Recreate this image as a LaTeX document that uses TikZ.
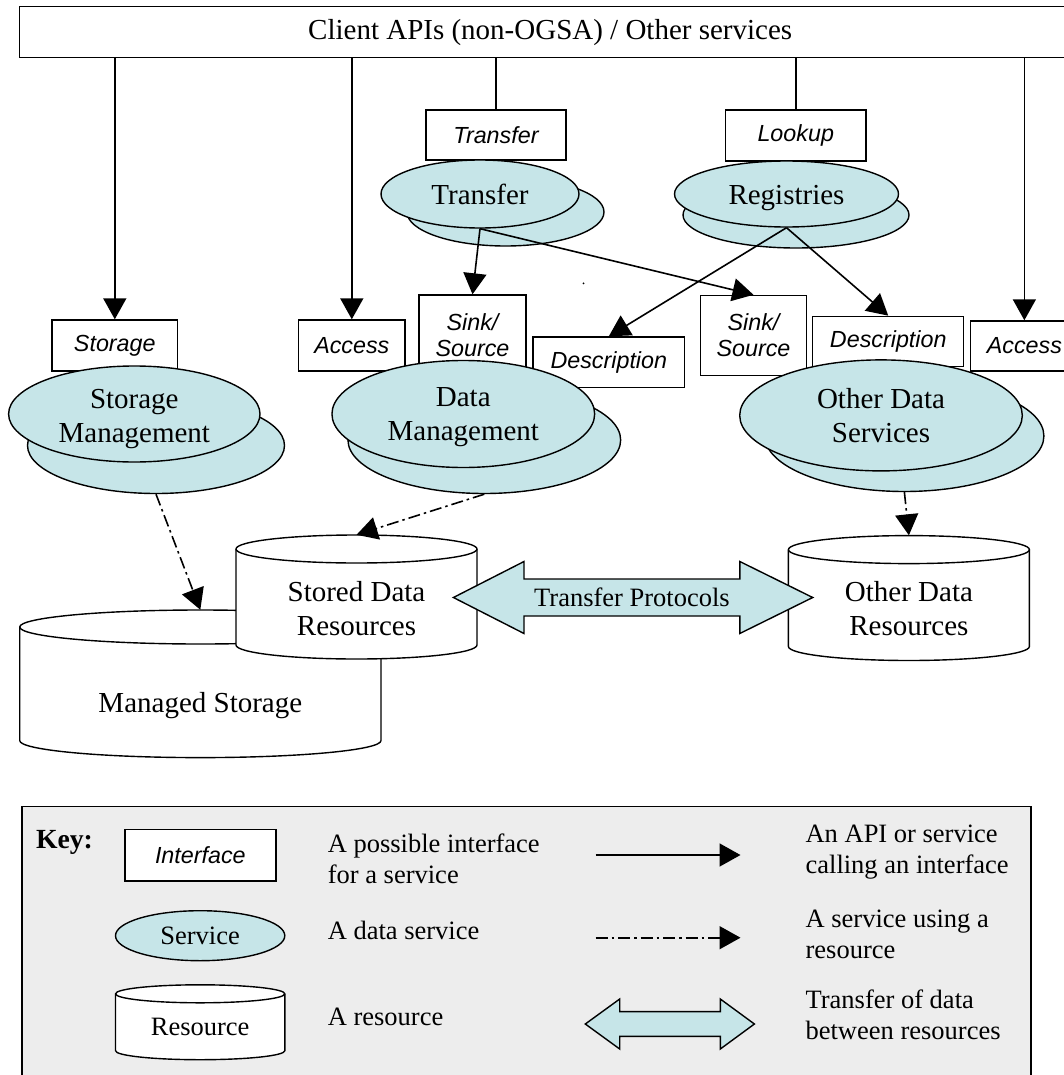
\documentclass[tikz,border=0pt]{standalone}
\usepackage{fontspec}
\setmainfont{Liberation Serif}
\setsansfont{Liberation Sans}
\usetikzlibrary{arrows.meta,shapes.geometric}
\definecolor{svc}{HTML}{C6E5E8}
\definecolor{keybg}{HTML}{EDEDED}
\newcommand\mycyl[5]{%
  \pgfmathsetmacro\cylrx{(#2-#1)/2}%
  \filldraw[outl, fill=white] (#1,#3) -- (#1,#4)
    arc[start angle=180, end angle=360, x radius=\cylrx pt, y radius=#5 pt]
    -- (#2,#3)
    arc[start angle=0, end angle=180, x radius=\cylrx pt, y radius=#5 pt] -- cycle;
  \draw[outl] (#1,#3) arc[start angle=180, end angle=360, x radius=\cylrx pt, y radius=#5 pt];
}
\begin{document}
\begin{tikzpicture}[x=1pt,y=-1pt,
  outl/.style={line width=1.4pt},
  iface/.style={draw, outl, fill=white, rectangle, inner sep=0pt,
    font=\fontsize{23.3}{26}\selectfont\sffamily\itshape, align=center},
  svcfront/.style={draw, outl, fill=svc, ellipse, inner sep=0pt,
    font=\fontsize{29}{34}\selectfont, align=center},
  svcback/.style={draw, outl, fill=svc, ellipse, inner sep=0pt},
  maintxt/.style={font=\fontsize{29}{34}\selectfont, align=center, inner sep=0pt},
  keytxt/.style={font=\fontsize{26.5}{31}\selectfont, align=left, anchor=west, inner sep=0pt},
  call/.style={line width=1.6pt, -{Triangle[length=21pt,width=23pt]}},
  usearrow/.style={line width=1.6pt, dash pattern=on 12pt off 4pt on 2.5pt off 4pt,
    -{Triangle[length=21pt,width=23pt]}},
]
\useasboundingbox (0,0) rectangle (1064,1075);

% top box
\node[draw, outl, anchor=north west, minimum width=1061pt, minimum height=51pt,
  inner sep=0pt, font=\fontsize{29}{34}\selectfont] (client) at (19,6)
  {Client APIs (non-OGSA) / Other services};

% interface boxes
\node[iface, minimum width=140pt, minimum height=50pt] (itransfer) at (496,135) {Transfer};
\node[iface, minimum width=140.5pt, minimum height=51pt] (ilookup) at (795.75,135.5) {Lookup};
\node[iface, minimum width=125.6pt, minimum height=51pt] (istorage) at (114.8,345.5) {Storage};
\node[iface, minimum width=106.4pt, minimum height=51pt] (iaccessL) at (351.8,345.5) {Access};
\node[iface, minimum width=107pt, minimum height=80pt] (isinkL) at (472.5,335) {Sink/\\Source};
\node[iface, minimum width=151.6pt, minimum height=50.6pt] (idescL) at (608.8,362.3) {Description};
\node[iface, minimum width=106pt, minimum height=80pt] (isinkR) at (753.5,335.5) {Sink/\\Source};
\node[iface, minimum width=151pt, minimum height=50.3pt] (idescR) at (888.25,341.5) {Description};
\node[iface, minimum width=107.3pt, minimum height=50pt] (iaccessR) at (1024.35,346) {Access};

% calls from client APIs
\draw[call] (client.south -| istorage.north) -- (istorage.north);
\draw[call] (client.south -| iaccessL.north) -- (iaccessL.north);
\draw[line width=1.6pt] (client.south -| itransfer.north) -- (itransfer.north);
\draw[line width=1.6pt] (client.south -| ilookup.north) -- (ilookup.north);
\draw[call] (client.south -| iaccessR.north) -- (iaccessR.north);

% services
\node[svcback, minimum width=197pt, minimum height=68pt] (transferB) at (505.5,212) {};
\node[svcfront, minimum width=198pt, minimum height=68pt] (transfer) at (480,194) {Transfer};
\node[svcback, minimum width=226pt, minimum height=66pt] (registriesB) at (796,215) {};
\node[svcfront, minimum width=224pt, minimum height=66pt] (registries) at (786.5,194) {};
\node[maintxt] (registriestxt) at (786.5,198) {Registries};
\node[svcback, minimum width=257pt, minimum height=96pt] (storagemB) at (156,445.5) {};
\node[svcfront, minimum width=251.4pt, minimum height=96pt] (storagem) at (134.3,414) {};
\node[maintxt] (storagemtxt) at (134.3,419) {Storage\\Management};
\node[svcback, minimum width=272.7pt, minimum height=107pt] (datamB) at (484.3,440) {};
\node[svcfront, minimum width=262.7pt, minimum height=107pt] (datam) at (463.3,414) {};
\node[maintxt] (datamtxt) at (463.3,417.5) {Data\\Management};
\node[svcback, minimum width=279pt, minimum height=111pt] (otherB) at (904.4,436) {};
\node[svcfront, minimum width=282.6pt, minimum height=111pt] (other) at (881,415.4) {Other Data\\Services};

% service to interface calls
\draw[call] (transfer.south) -- (isinkL.north);
\draw[call] (transfer.south) -- (isinkR.north);
\draw[call] (registries.south) -- (idescL.north);
\draw[call] (registries.south) -- (idescR.north);

\node[circle, fill, inner sep=0pt, minimum size=2pt] (dot) at (583.5,283.4) {};

% resources
\mycyl{19.7}{381}{627}{740.6}{17}
\node[inner sep=0pt, minimum width=361.3pt, minimum height=147.6pt] (managed) at (200.35,683.8) {};
\node[maintxt] (managedtxt) at (200.35,706) {Managed Storage};

\mycyl{236}{477}{549}{645}{14}
\node[inner sep=0pt, minimum width=241pt, minimum height=124pt] (stored) at (356.5,597) {};
\node[maintxt] (storedtxt) at (356.5,609) {Stored Data\\Resources};

\mycyl{788.4}{1029.4}{549.6}{646.5}{14}
\node[inner sep=0pt, minimum width=241pt, minimum height=125pt] (odr) at (908.9,598) {};
\node[maintxt] (odrtxt) at (908.9,609) {Other Data\\Resources};

% service using resource
\draw[usearrow] (storagemB.south) -- (managed.north);
\draw[usearrow] (datamB.south) -- (stored.north);
\draw[usearrow] (otherB.south) -- (odr.north);

% transfer protocols
\filldraw[outl, fill=svc] (453.4,597.5) -- (524,561.5) -- (524,579) -- (739.8,579)
  -- (739.8,561.5) -- (812.7,597.5) -- (739.8,633.5) -- (739.8,616) -- (524,616)
  -- (524,633.5) -- cycle;
\node[inner sep=0pt, font=\fontsize{26.5}{31}\selectfont] (tp) at (632,597.5) {Transfer Protocols};

% key
\node[draw, outl, fill=keybg, anchor=north west, minimum width=1009pt,
  minimum height=290pt, inner sep=0pt] (keybox) at (21.4,805.5) {};
\node[inner sep=0pt, font=\fontsize{27.7}{32}\selectfont\bfseries] (keylbl) at (64.5,842.4) {Key:};
\node[iface, minimum width=151pt, minimum height=51.3pt] (kiface) at (200.35,855.35) {Interface};
\node[svcfront, minimum width=169.3pt, minimum height=50pt,
  font=\fontsize{26.5}{31}\selectfont] (ksvc) at (200.15,935.7) {Service};
\mycyl{115.5}{284.8}{993.8}{1050.7}{9}
\node[inner sep=0pt, minimum width=169.3pt, minimum height=75pt] (kres) at (200.15,1022.3) {};
\node[inner sep=0pt, font=\fontsize{26.5}{31}\selectfont] (krestxt) at (200.15,1027) {Resource};

\node[keytxt] (t1) at (327.6,858.5) {A possible interface\\for a service};
\node[keytxt] (t2) at (327.6,930.3) {A data service};
\node[keytxt] (t3) at (327.6,1016.6) {A resource};

\coordinate (ka1) at (595.7,855);
\coordinate (ka2) at (740.5,855);
\coordinate (kb1) at (595.7,937.7);
\coordinate (kb2) at (740.5,937.7);
\draw[call] (ka1) -- (ka2);
\draw[usearrow] (kb1) -- (kb2);
\filldraw[outl, fill=svc] (585.3,1024) -- (619.7,999) -- (619.7,1011.6) -- (720.3,1011.6)
  -- (720.3,999) -- (754.4,1024) -- (720.3,1049) -- (720.3,1036.4) -- (619.7,1036.4)
  -- (619.7,1049) -- cycle;

\node[keytxt] (t4) at (805.4,852.5) {An API or service\\calling an interface};
\node[keytxt] (t5) at (805.4,934.5) {A service using a\\resource};
\node[keytxt] (t6) at (805.4,1014.5) {Transfer of data\\between resources};
\end{tikzpicture}
\end{document}
